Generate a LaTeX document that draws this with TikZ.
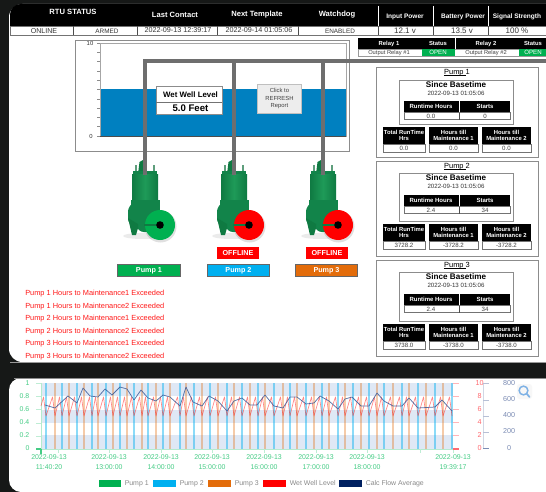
\documentclass[tikz,border=0pt]{standalone}
\usepackage{fontspec}
\setmainfont{Liberation Sans}
\newcommand{\fsz}[1]{\fontsize{#1}{#1}\selectfont}
\definecolor{pgreen}{HTML}{00B050}
\definecolor{pblue}{HTML}{00B0F0}
\definecolor{porange}{HTML}{E36C0A}
\definecolor{bgdark}{HTML}{161817}
\definecolor{wellblue}{HTML}{0080C0}
\definecolor{axgreen}{HTML}{45CC85}
\definecolor{axred}{HTML}{FF6A70}
\definecolor{axnavy}{HTML}{7C8CB4}
\definecolor{legtxt}{HTML}{8A8A8A}
\definecolor{pipeg}{HTML}{6E6E6E}
\definecolor{bandb}{HTML}{DFE8F5}
\definecolor{pumpd}{HTML}{0F7A42}
\definecolor{pumpm}{HTML}{1E9A58}
\definecolor{pumpe}{HTML}{12844A}
\definecolor{boltc}{HTML}{5E9E7C}
\definecolor{navyline}{HTML}{3A5A98}
\definecolor{navyleg}{HTML}{002060}
\definecolor{magc}{HTML}{7FB2E5}
\tikzset{
 hdr/.style={text=white,font=\fsz{5.7}\bfseries,inner sep=0pt,align=center},
 hdrs/.style={text=white,font=\fsz{4.9}\bfseries,inner sep=0pt,align=center},
 val/.style={text=black!80,font=\fsz{5.3},inner sep=0pt,align=center},
 cellv/.style={text=black!75,font=\fsz{4.6},inner sep=0pt,align=center},
 alert/.style={text=red!90,font=\fsz{5.55},inner sep=0pt,anchor=west},
 graybox/.style={draw=black!45,line width=0.7pt,fill=white},
 thinb/.style={draw=black!55,line width=0.45pt,fill=white},
 pumplabel/.style={draw=black!60,line width=0.6pt,text=white,font=\fsz{5.4}\bfseries,minimum width=47pt,minimum height=9.4pt,inner sep=0pt},
 offl/.style={fill=red,text=white,font=\fsz{5.4}\bfseries,minimum width=31.5pt,minimum height=9pt,inner sep=0pt},
 gtxt/.style={text=axgreen,font=\fsz{5.2},inner sep=0pt},
 rtxt/.style={text=axred,font=\fsz{5.4},inner sep=0pt},
 ntxt/.style={text=axnavy,font=\fsz{5.4},inner sep=0pt},
 legt/.style={text=legtxt,font=\fsz{5.2},inner sep=0pt,anchor=west},
 pipe/.style={line width=3pt,draw=pipeg}
}
\newcommand{\pumpicon}[2]{%
 \begin{scope}[shift={(#1,0)}]
  \fill[black,opacity=0.08] (-2,236) ellipse (20 and 3);
  \fill[black,opacity=0.12] (15.5,226.5) circle (16);
  \fill[boltc] (-10,165) rectangle (-8,173);
  \fill[boltc] (7.5,165) rectangle (9.5,173);
  \fill[pumpd] (-5.5,162) -- (-2,160) -- (-2,174) -- (-7,174) -- cycle;
  \fill[pumpe] (-12,171) rectangle (12,176);
  \shade[left color=pumpd,right color=pumpd,middle color=pumpm] (-13,174) rectangle (13,203);
  \fill[pumpe] (-14,200) rectangle (15,210);
  \fill[pumpe,rounded corners=2pt] (-17,209) -- (-13,203) -- (14,203) -- (14,232) -- (-4,232) -- (-10,226) -- (-17,222) -- cycle;
  \fill[pumpd] (-17,218) -- (-7,224) -- (-7,228) -- (-9,235) -- (-13,235) -- cycle;
  \fill[#2] (15,225) circle (15);
  \draw[pumpd,line width=0.8pt] (-1,225) -- (15,225);
  \fill[black] (15,225) circle (3.8);
 \end{scope}}
\begin{document}
\begin{tikzpicture}[x=0.75pt,y=-0.75pt]
\useasboundingbox (0,0) rectangle (546,492);
\fill[bgdark] (0,0) rectangle (546,492);
% main panel
\fill[white] (546,4) [rounded corners=10pt] -- (9,4) -- (9,362) [sharp corners] -- (546,362) -- cycle;
\fill[black] (546,4) [rounded corners=8pt] -- (10,4) [sharp corners] -- (10,26) -- (546,26) -- cycle;
\draw[black!40,line width=0.5pt] (10,362.5) -- (546,362.5);
% header separators
\foreach \x in {378,433,488} \draw[white,line width=0.6pt] (\x,6) -- (\x,26);
\node[hdr] (h1) at (73,12) {RTU STATUS};
\node[hdr] (h2) at (175,15) {Last Contact};
\node[hdr] (h3) at (257,15) {Next Template};
\node[hdr] (h4) at (337,15) {Watchdog};
\node[hdrs] (h5) at (405,16.5) {Input Power};
\node[hdrs] (h6) at (463,16.5) {Battery Power};
\node[hdrs] (h7) at (517,16.5) {Signal Strength};
% value row
\draw[black!55,line width=0.5pt] (10.5,26.5) rectangle (546,35.5);
\foreach \x in {73.5,137.5,217.5,298,378,433,488} \draw[black!70,line width=0.6pt] (\x,26) -- (\x,35.5);
\node[val] (v1) at (44,30.8) {ONLINE};
\node[val,font=\fsz{4.8}] (v2) at (107,30.8) {ARMED};
\node[val,font=\fsz{5.4}] (v3) at (178,30.5) {2022-09-13 12:39:17};
\node[val,font=\fsz{5.4}] (v4) at (259,30.5) {2022-09-14 01:05:06};
\node[val,font=\fsz{4.8}] (v5) at (340,30.8) {ENABLED};
\node[val,font=\fsz{6}] (v6) at (405,30.5) {12.1 v};
\node[val,font=\fsz{6}] (v7) at (462,30.5) {13.5 v};
\node[val,font=\fsz{6}] (v8) at (517,30.5) {100 \%};
% tank
\draw[graybox] (75.5,40.5) rectangle (349.5,151);
\fill[wellblue] (100,89) rectangle (346,136);
\draw[black!35,line width=0.5pt] (100,43) rectangle (346,136);
\draw[black!70,line width=0.5pt] (100,136) -- (346,136);
\foreach \i in {0,...,10} \draw[black!45,line width=0.4pt] (97,43+9.3*\i) -- (100,43+9.3*\i);
\node[val,font=\fsz{4.4}] (t10) at (90,43) {10};
\node[val,font=\fsz{4.4}] (t0) at (91,136) {0};
% relay table
\fill[black] (358,38) rectangle (546,49);
\draw[white,line width=0.5pt] (455,38) -- (455,49);
\draw[black!40,line width=0.4pt,fill=white] (358,49) rectangle (546,56);
\fill[pgreen] (421.5,49.3) rectangle (455,56);
\fill[pgreen] (519,49.3) rectangle (546,56);
\node[hdrs,font=\fsz{4.4}\bfseries] (r1) at (389,43.5) {Relay 1};
\node[hdrs,font=\fsz{4.4}\bfseries] (r2) at (438,43.5) {Status};
\node[hdrs,font=\fsz{4.4}\bfseries] (r3) at (486,43.5) {Relay 2};
\node[hdrs,font=\fsz{4.4}\bfseries] (r4) at (533,43.5) {Status};
\node[cellv,font=\fsz{4.3}] (r5) at (389,52.7) {Output Relay \#1};
\node[cellv,text=white,font=\fsz{4.6}] (r6) at (438,52.7) {OPEN};
\node[cellv,font=\fsz{4.3}] (r7) at (486,52.7) {Output Relay \#2};
\node[cellv,text=white,font=\fsz{4.6}] (r8) at (533,52.7) {OPEN};
% pumps
\pumpicon{145}{pgreen}
\pumpicon{234}{red}
\pumpicon{323}{red}
% pipes
\draw[pipe] (145,175) -- (145,61) -- (546,61);
\draw[pipe] (234,175) -- (234,61);
\draw[pipe] (323,175) -- (323,61);
% well level
\draw[draw=black!45,line width=0.7pt,fill=white] (156,86.5) rectangle (222,114.5);
\draw[black!55,line width=0.6pt] (156,102.5) -- (222,102.5);
\node[inner sep=0pt,font=\fsz{5.9}\bfseries] (w1) at (190.5,94.3) {Wet Well Level};
\node[inner sep=0pt,font=\fsz{7.2}\bfseries] (w2) at (190.5,107.8) {5.0 Feet};
% refresh
\node[draw=black!25,fill=black!7,line width=0.5pt,minimum width=33pt,minimum height=21.5pt,inner sep=0pt,font=\fsz{4.4},text=black!75,align=center] (ref) at (279.5,98.5) {Click to\\[1.4pt]REFRESH\\[1.4pt]Report};
% labels
\node[offl] (o2) at (238,253) {OFFLINE};
\node[offl] (o3) at (327,253) {OFFLINE};
\node[pumplabel,fill=pgreen] (l1) at (149,270.5) {Pump 1};
\node[pumplabel,fill=pblue] (l2) at (238.5,270.5) {Pump 2};
\node[pumplabel,fill=porange] (l3) at (326.5,270.5) {Pump 3};
% alerts
\node[alert] (a1) at (25,293.5) {Pump 1 Hours to Maintenance1 Exceeded};
\node[alert] (a2) at (25,306.5) {Pump 1 Hours to Maintenance2 Exceeded};
\node[alert] (a3) at (25,319) {Pump 2 Hours to Maintenance1 Exceeded};
\node[alert] (a4) at (25,331.5) {Pump 2 Hours to Maintenance2 Exceeded};
\node[alert] (a5) at (25,344) {Pump 3 Hours to Maintenance1 Exceeded};
\node[alert] (a6) at (25,357) {Pump 3 Hours to Maintenance2 Exceeded};
% right panels
\foreach \n/\pt/\pb/\it/\ib/\tt/\lt/\a/\b/\c/\d/\e in {
 1/67/157/80/124/101/127/0.0/0/0.0/0.0/0.0,
 2/161/256/173/221/195/224/2.4/34/3728.2/-3728.2/-3728.2,
 3/260/356/272/321/294/324/2.4/34/3738.0/-3738.0/-3738.0}{
 \draw[graybox] (376,\pt) rectangle (538,\pb);
 \node[inner sep=0pt,font=\fsz{5.6},anchor=base] (pt\n) at (457,\pt+7.5) {Pump \n};
 \draw[black,line width=0.4pt] (pt\n.base west) ++(0,1.2) -- ++(22,0);
 \draw[graybox] (399,\it) rectangle (513,\ib);
 \node[inner sep=0pt,font=\fsz{6.1}\bfseries] (ps\n) at (456,\it+4.8) {Since Basetime};
 \node[inner sep=0pt,font=\fsz{4.6},text=black!80] (pd\n) at (456,\it+13.8) {2022-09-13 01:05:06};
 % inner table
 \fill[black] (404,\tt) rectangle (510,\tt+11.5);
 \draw[white,line width=0.4pt] (459,\tt) -- (459,\tt+11.5);
 \draw[thinb] (404,\tt+11.5) rectangle (510,\tt+18.5);
 \draw[black!70,line width=0.5pt] (459,\tt+11.5) -- (459,\tt+18.5);
 \node[hdrs,font=\fsz{4.5}\bfseries] (pa\n) at (431,\tt+5.8) {Runtime Hours};
 \node[hdrs,font=\fsz{4.5}\bfseries] (pb\n) at (485,\tt+5.8) {Starts};
 \node[cellv] (pc\n) at (431,\tt+15) {\a};
 \node[cellv] (pe\n) at (485,\tt+15) {\b};
 % lower tables
 \foreach \xa/\xb/\m/\k/\v in {383/425/1/Total RunTime\\Hrs/\c, 429/478/2/Hours till\\Maintenance 1/\d, 482/531/3/Hours till\\Maintenance 2/\e}{
  \fill[black] (\xa,\lt) rectangle (\xb,\lt+17.5);
  \draw[thinb] (\xa,\lt+17.5) rectangle (\xb,\lt+25);
  \node[hdrs,font=\fsz{4.4}\bfseries] (lh\n\m) at ({(\xa+\xb)/2},\lt+8.7) {\k};
  \node[cellv] (lv\n\m) at ({(\xa+\xb)/2},\lt+21.3) {\v};
 }
}
% chart panel
\fill[white] (546,378) [rounded corners=9pt] -- (9,378) -- (9,492) [sharp corners] -- (546,492) -- cycle;
\draw[black!45,line width=0.6pt] (14,378) -- (546,378);
\foreach \y/\yy in {383/396,410/423,435/449} \fill[bandb] (41,\y) rectangle (453,\yy);
% green axis
\draw[axgreen!40,line width=0.6pt] (41,383) -- (41,449) -- (453,449);
\foreach \y in {383,396,409.5,423,436} \draw[axgreen!35,line width=0.4pt] (36,\y) -- (41,\y);
\draw[axgreen,line width=1pt] (36,449) -- (41,449);
\foreach \x in {58,109,161,212,264,316,367,420,453} \draw[axgreen!35,line width=0.4pt] (\x,449) -- (\x,453);
\draw[axgreen,line width=1pt] (41,449) -- (41,454);
% pump bars
\foreach \x in {46,62,77,92,106,120,134,148,163,180,194,210,227,242,258,274,290,306,322,338,353,369,384,402,418,435,452}
 \fill[pblue,opacity=0.45] (\x-1.3,383) rectangle (\x+1.3,449);
\foreach \x in {55,69,84,98,113,127,142,156,170,186,202,218,234,250,265,283,297,314,329,345,361,377,393,409,426,443}
 \fill[porange,opacity=0.35] (\x-1.2,383) rectangle (\x+1.2,449);
% wet well sawtooth
\draw[red!85,opacity=0.55,line width=0.5pt,line join=round] (41,406) -- (43.5,397) -- (46,416)
 \foreach \x in {55,62,69,77,84,92,98,106,113,120,127,134,142,148,156,163,170,180,186,194,202,210,218,227,234,242,250,258,265,274,283,290,297,306,314,322,329,338,345,353,361,369,377,384,393,402,409,418,426,435,443,452}
 { -- (\x-2.5,397) -- (\x,416) };
% calc flow
\draw[navyline,line width=0.55pt,opacity=0.85,line join=round] (45,405) -- (55,408) -- (68,396) -- (77,403) -- (83,388) -- (90,396) -- (98,397) -- (105,389) -- (112,395) -- (120,387) -- (127,389) -- (134,400) -- (141,390) -- (148,398) -- (156,401) -- (163,395) -- (170,397) -- (180,406) -- (186,387) -- (193,402) -- (202,406) -- (209,396) -- (218,401) -- (227,411) -- (234,401) -- (242,398) -- (250,405) -- (257,405) -- (265,395) -- (274,406) -- (283,408) -- (290,397) -- (297,397) -- (306,404) -- (314,403) -- (320,396) -- (329,401) -- (338,409) -- (345,399) -- (352,397) -- (361,406) -- (369,406) -- (377,393) -- (384,401) -- (393,406) -- (402,406) -- (409,398) -- (418,408) -- (435,407) -- (442,400) -- (452,411);
% left labels
\node[gtxt] (y1) at (27.5,383.5) {1};
\node[gtxt] (y2) at (24.5,396.5) {0.8};
\node[gtxt] (y3) at (24.5,409.5) {0.6};
\node[gtxt] (y4) at (24.5,422.5) {0.4};
\node[gtxt] (y5) at (24.5,435.5) {0.2};
\node[gtxt] (y6) at (27.5,448.5) {0};
% x labels
\foreach \i/\x/\dd/\tm in {1/49/2022-09-13/11:40:20,2/109/2022-09-13/13:00:00,3/161/2022-09-13/14:00:00,4/212/2022-09-13/15:00:00,5/264/2022-09-13/16:00:00,6/316/2022-09-13/17:00:00,7/367/2022-09-13/18:00:00,8/453/2022-09-13/19:39:17}{
 \node[gtxt] (xd\i) at (\x,457) {\dd};
 \node[gtxt] (xt\i) at (\x,467.3) {\tm};
}
% red axis
\foreach \y in {383,396,409,422,435} \draw[axred!50,line width=0.4pt] (453,\y) -- (459,\y);
\draw[axred,line width=1pt] (453,449) -- (459,449);
\foreach \i/\y/\t in {1/383/10,2/396/8,3/409/6,4/422/4,5/435/2,6/448/0}
 \node[rtxt] (ry\i) at (479.5,\y) {\t};
% navy axis
\draw[axnavy!35,line width=0.5pt] (483,383) -- (483,449);
\foreach \y in {383,400,416,432} \draw[axnavy!55,line width=0.5pt] (483,\y) -- (489,\y);
\draw[axnavy,line width=1pt] (483,448.5) -- (489,448.5);
\foreach \i/\y/\t in {1/383/800,2/399/600,3/415/400,4/431/200,5/448/0}
 \node[ntxt] (ny\i) at (509,\y) {\t};
% magnifier
\fill[black!3,rounded corners=2pt] (517,384) rectangle (532,399);
\draw[magc,line width=1.1pt] (523.5,390.5) circle (4.4);
\draw[magc,line width=1.3pt,line cap=round] (526.8,393.8) -- (529.5,397);
% legend
\foreach \i/\xa/\xb/\c/\t in {1/99/121/pgreen/Pump 1,2/153/176/pblue/Pump 2,3/208/231/porange/Pump 3,4/263/286/red/Wet Well Level,5/339/362/navyleg/Calc Flow Average}{
 \fill[\c] (\xa,480) rectangle (\xb,487);
 \node[legt] (lg\i) at (\xb+3.5,483.5) {\t};
}
\end{tikzpicture}
\end{document}
